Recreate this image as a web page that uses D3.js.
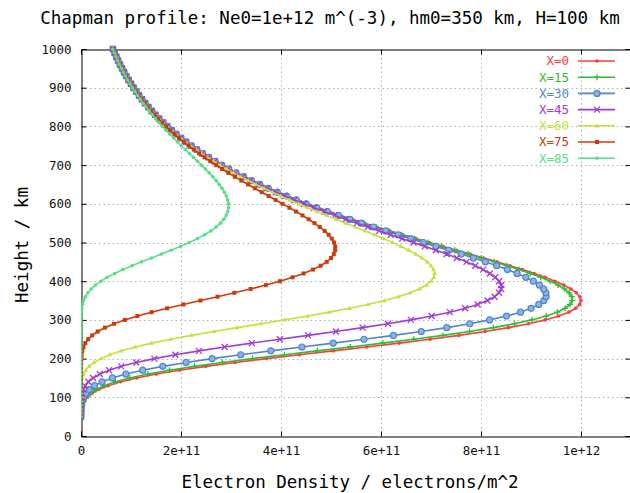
<!DOCTYPE html>
<html><head><meta charset="utf-8">
<script src="https://cdn.jsdelivr.net/npm/d3@7/dist/d3.min.js"></script>
<style>
html,body{margin:0;padding:0;background:#fff;}
svg{display:block;}
</style></head>
<body>
<svg id="c" width="630" height="493"></svg>
<script>
// Heights (km) at which each profile is sampled
const heights = [50,60,70,80,90,100,110,120,130,140,150,160,170,180,190,200,210,220,230,240,250,260,270,280,290,300,310,320,330,340,350,360,370,380,390,400,410,420,430,440,450,460,470,480,490,500,510,520,530,540,550,560,570,580,590,600,610,620,630,640,650,660,670,680,690,700,710,720,730,740,750,760,770,780,790,800,810,820,830,840,850,860,870,880,890,900,910,920,930,940,950,960,970,980,990,1000];

// Electron density in units of 1e9 per series (solar zenith angle X)
const ne_X0 = [0.3,0.8,1.8,3.7,7.2,13.0,22.1,35.5,54.3,79.4,111.4,150.6,196.9,249.8,308.4,371.2,437.1,504.3,571.2,636.4,698.3,755.8,808.3,854.8,895.1,928.3,955.2,975.6,989.3,997.3,1000.0,997.6,990.6,979.8,965.5,948.1,928.3,906.4,882.8,857.9,832.0,805.4,778.3,751.0,723.7,696.6,669.7,643.2,617.2,591.6,566.8,542.6,519.2,496.5,474.6,453.4,432.9,413.3,394.4,376.2,358.9,342.1,326.2,310.8,296.2,282.2,268.8,256.0,243.9,232.2,221.1,210.4,200.4,190.7,181.6,172.8,164.5,156.5,149.0,141.8,134.8,128.3,122.2,116.2,110.5,105.2,100.1,95.2,90.6,86.2,82.0,78.0,74.2,70.6,67.1,63.9];
const ne_X15 = [0.2,0.6,1.3,2.9,5.7,10.5,18.2,29.8,46.3,68.8,97.8,133.9,177.0,226.8,282.5,343.0,406.9,472.7,538.6,603.6,665.6,723.8,777.1,825.0,866.9,901.7,930.4,952.7,968.2,978.0,982.5,981.8,976.4,967.1,954.1,938.0,919.4,898.4,875.8,851.8,826.6,800.7,774.2,747.4,720.6,693.8,667.3,641.1,615.4,590.1,565.5,541.5,518.2,495.6,473.8,452.7,432.3,412.8,394.0,375.8,358.5,341.8,325.9,310.6,296.0,282.1,268.7,255.9,243.8,232.2,221.0,210.4,200.3,190.7,181.5,172.8,164.4,156.5,149.0,141.8,134.8,128.3,122.1,116.2,110.5,105.2,100.1,95.2,90.6,86.2,82.0,78.0,74.2,70.6,67.1,63.9];
const ne_X30 = [0.1,0.2,0.5,1.2,2.5,5.1,9.4,16.4,27.0,42.2,62.9,89.8,123.3,163.6,210.2,262.4,319.4,379.7,441.8,504.5,565.9,624.8,680.5,731.5,777.5,817.2,851.1,879.0,900.1,915.5,925.6,930.2,929.8,925.3,916.7,904.6,889.7,872.2,852.6,831.3,808.7,784.9,760.4,735.4,710.0,684.6,659.3,634.2,609.3,584.8,560.9,537.5,514.8,492.6,471.3,450.5,430.4,411.1,392.6,374.6,357.5,340.9,325.2,309.9,295.5,281.5,268.2,255.5,243.4,231.9,220.8,210.2,200.2,190.5,181.4,172.7,164.3,156.4,148.9,141.7,134.8,128.2,122.1,116.2,110.5,105.2,100.1,95.2,90.5,86.2,82.0,78.0,74.2,70.6,67.1,63.8];
const ne_X45 = [0,0,0.1,0.2,0.4,1.0,2.3,4.5,8.4,14.6,24.1,37.7,56.2,80.4,110.5,146.7,188.8,235.9,287.2,341.6,397.8,454.1,509.8,563.2,613.8,659.7,701.3,737.7,768.2,793.2,812.9,827.1,836.1,840.5,840.3,836.1,828.6,817.8,804.3,788.6,771.0,751.7,731.2,709.8,687.7,665.1,642.3,619.3,596.4,573.6,551.2,529.0,507.4,486.3,465.7,445.8,426.3,407.6,389.5,371.9,355.2,338.9,323.4,308.5,294.2,280.4,267.3,254.7,242.7,231.3,220.2,209.7,199.8,190.2,181.1,172.4,164.1,156.2,148.7,141.6,134.7,128.1,122.0,116.1,110.4,105.1,100.0,95.2,90.5,86.1,82.0,78.0,74.2,70.6,67.1,63.8];
const ne_X60 = [0,0,0,0,0,0,0.1,0.2,0.6,1.3,2.8,5.3,9.6,16.2,25.9,39.5,57.6,80.5,108.6,141.7,179.4,220.9,265.6,312.3,360.0,407.1,453.1,496.8,537.2,573.8,606.5,634.6,657.8,676.5,690.5,700.0,705.5,707.1,705.1,700.1,692.3,681.9,669.5,655.3,639.8,623.0,605.4,587.1,568.2,549.0,529.7,510.4,491.2,472.2,453.5,435.2,417.1,399.6,382.6,366.0,350.0,334.5,319.6,305.1,291.3,278.0,265.2,252.9,241.1,229.9,219.1,208.7,198.9,189.4,180.5,171.9,163.6,155.8,148.4,141.2,134.4,127.9,121.8,115.9,110.3,105.0,99.9,95.1,90.4,86.1,81.9,77.9,74.2,70.6,67.1,63.8];
const ne_X75 = [0,0,0,0,0,0,0,0,0,0,0,0,0,0.1,0.3,0.6,1.3,2.6,4.9,8.6,14.3,22.3,33.4,47.8,65.9,87.6,112.8,141.2,172.1,204.9,238.9,273.1,306.7,339.2,369.7,397.8,423.1,445.1,463.9,479.3,491.4,500.1,505.6,508.3,508.4,506.0,501.6,495.2,487.2,477.6,467.0,455.4,443.0,430.1,416.8,403.1,389.2,375.4,361.5,347.7,334.2,320.7,307.7,294.8,282.4,270.3,258.5,247.1,236.2,225.6,215.3,205.5,196.1,187.0,178.4,170.1,162.1,154.5,147.2,140.3,133.5,127.2,121.2,115.4,109.8,104.6,99.6,94.8,90.2,85.8,81.7,77.8,74.0,70.5,67.0,63.7];
const ne_X85 = [0,0,0,0,0,0,0,0,0,0,0,0,0,0,0,0,0,0,0,0,0,0,0,0,0.1,0.2,0.4,0.8,1.7,3.1,5.3,8.7,13.6,20.2,28.8,39.6,52.4,67.3,83.9,102.0,121.2,141.0,160.7,180.2,198.9,216.4,232.8,247.2,259.8,270.3,279.0,285.7,290.6,293.7,295.1,295.0,293.4,290.7,286.8,282.0,276.5,270.2,263.5,256.2,248.7,240.9,233.0,224.9,216.9,208.9,200.8,193.0,185.3,177.6,170.3,163.1,156.0,149.2,142.7,136.4,130.2,124.3,118.7,113.2,108.0,103.0,98.2,93.6,89.1,85.0,80.9,77.1,73.4,70.0,66.6,63.4];

const seriesNames = ["X=0","X=15","X=30","X=45","X=60","X=75","X=85"];
const seriesValues = [ne_X0, ne_X15, ne_X30, ne_X45, ne_X60, ne_X75, ne_X85];
const seriesColors = ["#ff3b3b","#2fbd2f","#4f86d0","#a03cd2","#c2e23c","#cc3a0c","#58de88"];
const seriesMarkers = ["dot","plus","circle","cross","tri","square","dot"];

const xTickValues = [0,200,400,600,800,1000];          // units of 1e9
const xTickLabels = ["0","2e+11","4e+11","6e+11","8e+11","1e+12"];
const yTickValues = [0,100,200,300,400,500,600,700,800,900,1000];

const titleText = "Chapman profile: Ne0=1e+12 m^(-3), hm0=350 km, H=100 km";
const xLabel = "Electron Density / electrons/m^2";
const yLabel = "Height / km";

const L = 81, R = 631, T = 49, B = 436;
const svg = d3.select("#c");
const mono = "'DejaVu Sans Mono', 'Liberation Mono', monospace";

const x = d3.scaleLinear().domain([0, 1100]).range([L, R]);
const y = d3.scaleLinear().domain([0, 1000]).range([B, T]);

// grid
const grid = svg.append("g").attr("stroke", "#b0b0b0").attr("stroke-width", 1).attr("stroke-dasharray", "1.5,3");
xTickValues.slice(1).forEach(v => grid.append("line").attr("x1", x(v)+0.5).attr("x2", x(v)+0.5).attr("y1", T).attr("y2", B));
yTickValues.slice(1, -1).forEach(v => grid.append("line").attr("x1", L).attr("x2", R).attr("y1", Math.round(y(v))+0.5).attr("y2", Math.round(y(v))+0.5));

// axes
const fmtX = (d, i) => xTickLabels[i];
const axB = svg.append("g").attr("transform", `translate(0,${B+0.5})`)
  .call(d3.axisBottom(x).tickValues(xTickValues).tickFormat(fmtX).tickSize(-5).tickPadding(10));
const axT = svg.append("g").attr("transform", `translate(0,${T+0.5})`)
  .call(d3.axisTop(x).tickValues(xTickValues).tickFormat("").tickSize(-5));
const axL = svg.append("g").attr("transform", `translate(${L+0.5},0)`)
  .call(d3.axisLeft(y).tickValues(yTickValues).tickFormat(d3.format("d")).tickSize(-5).tickPadding(10));
const axR = svg.append("g").attr("transform", `translate(${R-0.5},0)`)
  .call(d3.axisRight(y).tickValues(yTickValues).tickFormat("").tickSize(-5));
[axB, axT, axL, axR].forEach(a => {
  a.select(".domain").attr("stroke", "#000");
  a.selectAll(".tick line").attr("stroke", "#000");
  a.selectAll("text").attr("font-family", mono).attr("font-size", 12.5).attr("fill", "#111");
});

// curves
const clip = svg.append("clipPath").attr("id", "pc").append("rect")
  .attr("x", L).attr("y", T - 4).attr("width", R - L).attr("height", B - T + 4);
const plot = svg.append("g").attr("clip-path", "url(#pc)");
const line = d3.line().x(d => x(d.v)).y(d => y(d.h));

function marker(g, type, cx, cy, color) {
  if (type === "dot") {
    g.append("circle").attr("cx", cx).attr("cy", cy).attr("r", 1.8).attr("fill", color);
  } else if (type === "plus") {
    g.append("path").attr("d", `M${cx-3},${cy}H${cx+3}M${cx},${cy-3}V${cy+3}`).attr("stroke", color).attr("stroke-width", 1.3);
  } else if (type === "circle") {
    g.append("circle").attr("cx", cx).attr("cy", cy).attr("r", 3).attr("fill", "#8fb2e4").attr("stroke", color).attr("stroke-width", 1.2);
  } else if (type === "cross") {
    g.append("path").attr("d", `M${cx-3},${cy-3}L${cx+3},${cy+3}M${cx-3},${cy+3}L${cx+3},${cy-3}`).attr("stroke", color).attr("stroke-width", 1.3);
  } else if (type === "tri") {
    g.append("path").attr("d", `M${cx},${cy-2.5}L${cx+2.3},${cy+1.6}L${cx-2.3},${cy+1.6}Z`).attr("fill", color);
  } else if (type === "square") {
    g.append("rect").attr("x", cx-2).attr("y", cy-2).attr("width", 4).attr("height", 4).attr("fill", color);
  }
}

seriesValues.forEach((vals, i) => {
  const data = heights.map((h, k) => ({h: h, v: vals[k]}));
  const g = plot.append("g");
  g.append("path").datum(data).attr("d", line).attr("fill", "none")
    .attr("stroke", seriesColors[i]).attr("stroke-width", 1.6);
  data.forEach(d => marker(g, seriesMarkers[i], x(d.v), y(d.h), seriesColors[i]));
});

// legend
const legX = 569, legY0 = 61, legDy = 16.2;
seriesNames.forEach((name, i) => {
  const yy = legY0 + i * legDy;
  svg.append("text").attr("x", legX).attr("y", yy).attr("dy", "0.35em")
    .attr("text-anchor", "end").attr("font-family", mono).attr("font-size", 12.5)
    .attr("fill", seriesColors[i]).text(name);
  svg.append("line").attr("x1", 578).attr("x2", 615).attr("y1", yy).attr("y2", yy)
    .attr("stroke", seriesColors[i]).attr("stroke-width", 1.6);
  marker(svg.append("g"), seriesMarkers[i], 597, yy, seriesColors[i]);
});

// titles
svg.append("text").attr("x", 330).attr("y", 24).attr("text-anchor", "middle")
  .attr("font-family", mono).attr("font-size", 17.5).attr("fill", "#000").text(titleText);
svg.append("text").attr("x", 350).attr("y", 488).attr("text-anchor", "middle")
  .attr("font-family", mono).attr("font-size", 17.5).attr("fill", "#000").text(xLabel);
svg.append("text").attr("transform", "translate(28,245) rotate(-90)").attr("text-anchor", "middle")
  .attr("font-family", mono).attr("font-size", 17.5).attr("fill", "#000").text(yLabel);
</script>
</body></html>
